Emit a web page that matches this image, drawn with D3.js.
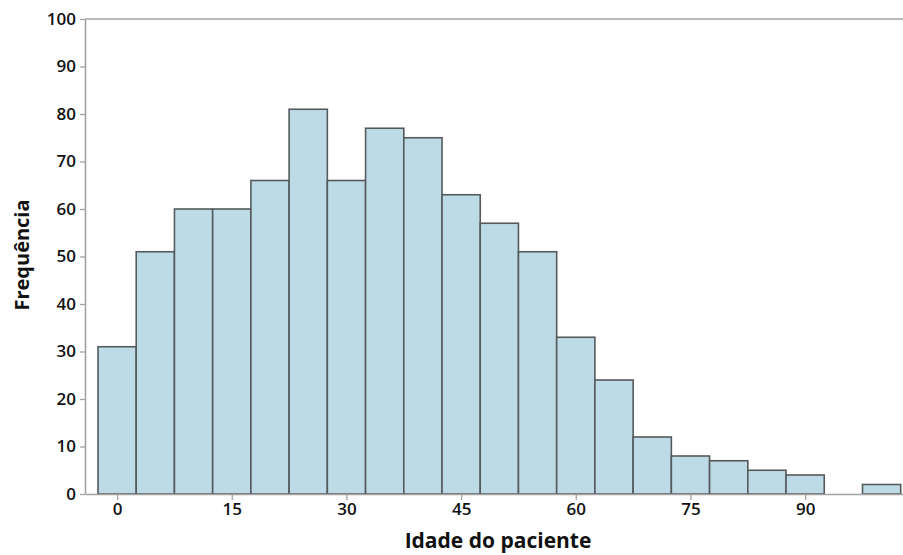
<!DOCTYPE html>
<html>
<head>
<meta charset="utf-8">
<script src="https://cdn.jsdelivr.net/npm/d3@7"></script>
<style>
  html, body { margin: 0; padding: 0; background: #fff; }
  #histogram text { font-family: "Open Sans", "Noto Sans", sans-serif; fill: #111; }
</style>
</head>
<body>
<div id="histogram"></div>
<script>
// bin centres (age, width 5) and their counts
const binCenters = [0, 5, 10, 15, 20, 25, 30, 35, 40, 45, 50, 55, 60, 65, 70, 75, 80, 85, 90, 95, 100];
const counts = [31, 51, 60, 60, 66, 81, 66, 77, 75, 63, 57, 51, 33, 24, 12, 8, 7, 5, 4, 0, 2];
const binWidth = 5;
const xTicks = [0, 15, 30, 45, 60, 75, 90];
const yTicks = [0, 10, 20, 30, 40, 50, 60, 70, 80, 90, 100];
const xTitle = 'Idade do paciente';
const yTitle = 'Frequência';

const width = 903;
const height = 555;
const margin = { top: 19, right: 0, bottom: 61, left: 85 };

const axisColor = '#a3a3a3';

const svg = d3.select('#histogram')
  .append('svg')
  .attr('width', width)
  .attr('height', height);

/* Scales */
const xScale = d3.scaleLinear()
  .domain([-4.2, 102.8])
  .range([margin.left, width - margin.right]);

const yScale = d3.scaleLinear()
  .domain([0, 100])
  .range([height - margin.bottom, margin.top]);

/* Bars */
const bins = binCenters.map((c, i) => ({ x0: c - binWidth / 2, x1: c + binWidth / 2, n: counts[i] }))
  .filter(d => d.n > 0);

svg.append('g')
  .selectAll('rect')
  .data(bins)
  .enter()
  .append('rect')
  .attr('x', d => xScale(d.x0))
  .attr('y', d => yScale(d.n))
  .attr('width', d => xScale(d.x1) - xScale(d.x0))
  .attr('height', d => yScale(0) - yScale(d.n))
  .attr('fill', '#bddbe6')
  .attr('stroke', '#555a5c')
  .attr('stroke-width', 1.6);

/* top frame line */
svg.append('line')
  .attr('x1', margin.left)
  .attr('x2', width)
  .attr('y1', yScale(100))
  .attr('y2', yScale(100))
  .attr('stroke', axisColor)
  .attr('stroke-width', 1.6);

/* Axes */
const xAxis = d3.axisBottom(xScale).tickValues(xTicks).tickSize(6).tickSizeOuter(0).tickPadding(3);
const yAxis = d3.axisLeft(yScale).tickValues(yTicks).tickSize(5).tickSizeOuter(0).tickPadding(4);

const gx = svg.append('g')
  .attr('transform', `translate(0, ${yScale(0)})`)
  .call(xAxis);

const gy = svg.append('g')
  .attr('transform', `translate(${margin.left}, 0)`)
  .call(yAxis);

[gx, gy].forEach(g => {
  g.select('.domain').attr('stroke', axisColor).attr('stroke-width', 1.6);
  g.selectAll('.tick line').attr('stroke', axisColor).attr('stroke-width', 1.3);
  g.selectAll('.tick text')
    .style('font-size', '17px')
    .style('font-weight', 600)
    .attr('fill', '#111');
});

/* Axis titles */
svg.append('text')
  .attr('x', 498)
  .attr('y', 548)
  .attr('text-anchor', 'middle')
  .style('font-size', '21px')
  .style('font-weight', 700)
  .text(xTitle);

svg.append('text')
  .attr('transform', `translate(29, 255) rotate(-90)`)
  .attr('text-anchor', 'middle')
  .style('font-size', '20px')
  .style('font-weight', 700)
  .text(yTitle);
</script>
</body>
</html>
